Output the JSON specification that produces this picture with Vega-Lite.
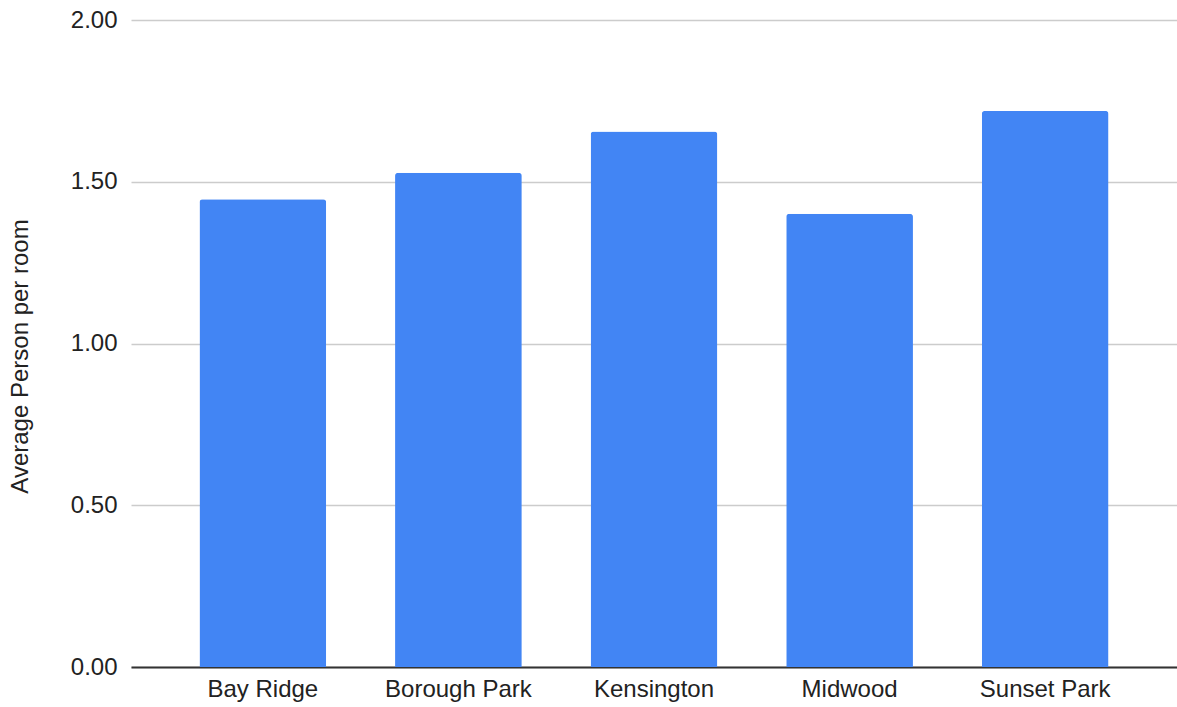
{
  "$schema": "https://vega.github.io/schema/vega-lite/v6.json",
  "width": 1046,
  "height": 647,
  "autosize": {"type": "none"},
  "padding": {"left": 131, "top": 20, "right": 0, "bottom": 40},
  "background": "white",
  "config": {
    "view": {"stroke": null},
    "font": "Liberation Sans"
  },
  "data": {
    "values": [
      {"neighborhood": "Bay Ridge", "value": 1.446},
      {"neighborhood": "Borough Park", "value": 1.528},
      {"neighborhood": "Kensington", "value": 1.655},
      {"neighborhood": "Midwood", "value": 1.401},
      {"neighborhood": "Sunset Park", "value": 1.719}
    ]
  },
  "mark": {"type": "bar", "color": "#4285F4", "cornerRadiusTopLeft": 3, "cornerRadiusTopRight": 3},
  "encoding": {
    "x": {
      "field": "neighborhood",
      "type": "nominal",
      "sort": null,
      "scale": {"paddingInner": 0.352, "paddingOuter": 0.35},
      "axis": {
        "title": null,
        "labelAngle": 0,
        "labelFontSize": 24,
        "labelColor": "#222222",
        "labelPadding": 10,
        "ticks": false,
        "domain": true,
        "domainColor": "#333333",
        "domainWidth": 2
      }
    },
    "y": {
      "field": "value",
      "type": "quantitative",
      "scale": {"domain": [0, 2], "nice": false},
      "axis": {
        "title": "Average Person per room",
        "titleFontSize": 24,
        "titleFontWeight": "normal",
        "titleColor": "#222222",
        "titleX": -99,
        "titleY": 336,
        "titleAngle": -90,
        "titleAlign": "center",
        "titleBaseline": "bottom",
        "values": [0, 0.5, 1, 1.5, 2],
        "format": ".2f",
        "labelFontSize": 24,
        "labelColor": "#222222",
        "labelPadding": 14,
        "ticks": false,
        "domain": false,
        "gridColor": "#cccccc",
        "gridWidth": 1.5
      }
    }
  }
}
